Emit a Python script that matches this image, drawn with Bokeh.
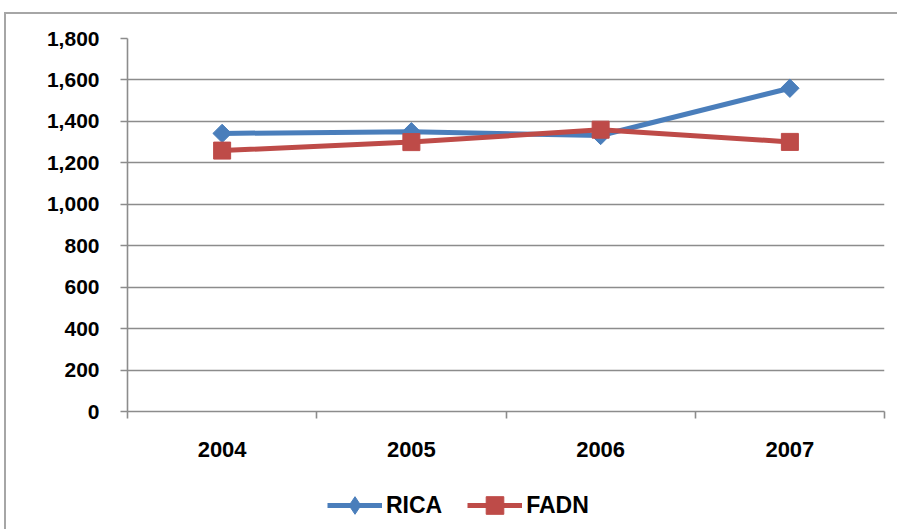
import math
from bokeh.plotting import figure
from bokeh.layouts import column
from bokeh.models import (ColumnDataSource, FixedTicker, NumeralTickFormatter,
                          Range1d, Legend, LegendItem)
from bokeh.embed import file_html
from bokeh.resources import INLINE

years = ["2004", "2005", "2006", "2007"]
rica = [1342, 1350, 1332, 1560]
fadn = [1259, 1300, 1360, 1301]
y_ticks = [0, 200, 400, 600, 800, 1000, 1200, 1400, 1600, 1800]

xpos = [i + 1 for i in range(len(years))]
src = ColumnDataSource(dict(x=xpos, rica=rica, fadn=fadn))

blue = "#4a7ebb"
red = "#be4b48"
FONT = "Liberation Sans"

p = figure(width=891, height=457, output_backend="svg", toolbar_location=None,
           x_range=Range1d(0.5, len(years) + 0.5), y_range=Range1d(0, 1800),
           min_border_left=121, min_border_top=24, min_border_right=13,
           min_border_bottom=60)
p.outline_line_color = None
p.background_fill_color = "white"
p.border_fill_color = "white"

# grid
p.xgrid.grid_line_color = None
p.ygrid.grid_line_color = "#8c8c8c"
p.ygrid.grid_line_width = 1.6
p.ygrid.ticker = FixedTicker(ticks=y_ticks)

# y axis
p.yaxis.ticker = FixedTicker(ticks=y_ticks)
p.yaxis.formatter = NumeralTickFormatter(format="0,0")
p.yaxis.axis_line_color = "#8c8c8c"
p.yaxis.axis_line_width = 1.6
p.yaxis.major_tick_line_color = "#8c8c8c"
p.yaxis.major_tick_line_width = 1.6
p.yaxis.major_tick_out = 7
p.yaxis.major_tick_in = 0
p.yaxis.minor_tick_line_color = None
p.yaxis.major_label_standoff = 21
p.yaxis.major_label_text_font = FONT
p.yaxis.major_label_text_font_style = "bold"
p.yaxis.major_label_text_font_size = "21px"
p.yaxis.major_label_text_color = "black"

# x axis
p.xaxis.ticker = FixedTicker(ticks=xpos,
                             minor_ticks=[i + 0.5 for i in range(len(years) + 1)])
p.xaxis.major_label_overrides = {x: y for x, y in zip(xpos, years)}
p.xaxis.axis_line_color = "#8c8c8c"
p.xaxis.axis_line_width = 1.6
p.xaxis.major_tick_line_color = None
p.xaxis.major_tick_out = 0
p.xaxis.major_tick_in = 0
p.xaxis.minor_tick_line_color = "#8c8c8c"
p.xaxis.minor_tick_line_width = 1.6
p.xaxis.minor_tick_out = 7
p.xaxis.minor_tick_in = 0
p.xaxis.major_label_standoff = 23
p.xaxis.major_label_text_font = FONT
p.xaxis.major_label_text_font_style = "bold"
p.xaxis.major_label_text_font_size = "22px"
p.xaxis.major_label_text_color = "black"


def draw_series(fig, ycol, color, marker, size, angle):
    ln = fig.line("x", ycol, source=src, line_color=color, line_width=5)
    mk = fig.scatter("x", ycol, source=src, marker=marker, size=size,
                     angle=angle, fill_color=color, line_color=color)
    return ln, mk


draw_series(p, "rica", blue, "square", 13, math.pi / 4)
draw_series(p, "fadn", red, "square", 17, 0)

# legend strip below the chart (own figure so the legend is not clipped)
lg = figure(width=891, height=58, output_backend="svg", toolbar_location=None,
            x_range=Range1d(0, 1), y_range=Range1d(0, 1),
            x_axis_type=None, y_axis_type=None,
            min_border_left=0, min_border_right=0, min_border_top=0,
            min_border_bottom=0)
lg.outline_line_color = None
lg.grid.visible = False
lg.background_fill_color = "white"
lg.border_fill_color = "white"
r1 = draw_series(lg, "rica", blue, "diamond", 19, 0)
r2 = draw_series(lg, "fadn", red, "square", 17, 0)

legend = Legend(items=[LegendItem(label="RICA", renderers=list(r1)),
                       LegendItem(label="FADN", renderers=list(r2))],
                orientation="horizontal", location=(200, 2),
                glyph_width=55, glyph_height=44, label_standoff=4, spacing=25,
                padding=0, margin=0, border_line_color=None,
                background_fill_alpha=0,
                label_text_font=FONT, label_text_font_style="bold",
                label_text_font_size="23px", label_text_color="black")
lg.add_layout(legend, "center")

layout = column(p, lg, spacing=0)
layout.styles = {"margin-left": "4px", "margin-top": "12px",
                 "border-left": "2px solid #a6a6a6",
                 "border-top": "2px solid #a6a6a6"}

open("out.html", "w").write(file_html(layout, INLINE))
